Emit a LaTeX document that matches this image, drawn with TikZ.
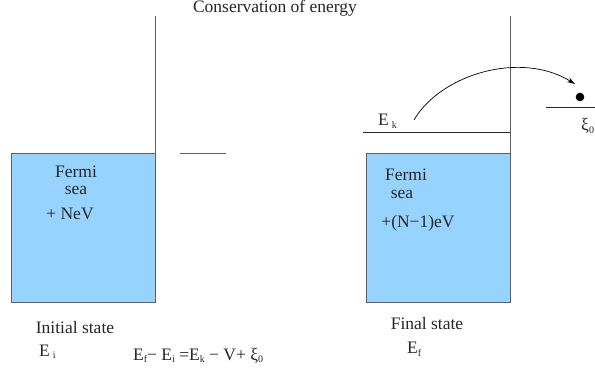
\documentclass[tikz,border=0pt]{standalone}
\usepackage{fontspec}
\setmainfont{Liberation Serif}
\usetikzlibrary{arrows.meta}
\definecolor{sea}{RGB}{150,212,255}
\definecolor{edge}{RGB}{95,95,95}
\tikzset{
  seabox/.style={draw=edge,fill=sea,line width=0.9pt},
  wall/.style={draw=edge,line width=0.9pt},
  lvl/.style={draw=black!85,line width=0.8pt},
  lbl/.style={inner sep=0pt,font=\rmfamily\fontsize{17.5}{19}\selectfont,text=black!85},
}
\newcommand{\sbs}[1]{\raisebox{-0.35ex}{\fontsize{10}{10}\selectfont #1}}
\begin{document}
\begin{tikzpicture}[x=1pt,y=-1pt]
\useasboundingbox (0,0) rectangle (595,374);
% left
\path[seabox] (11,153) rectangle (155,302);
\coordinate (lw1) at (155,16);
\coordinate (lw2) at (155,153);
\draw[wall] (lw1) -- (lw2);
\coordinate (ll1) at (180,153);
\coordinate (ll2) at (226,153);
\draw[wall] (ll1) -- (ll2);
\node[lbl,anchor=base] (f1) at (76,178) {Fermi};
\node[lbl,anchor=base] (s1) at (76,195) {sea};
\node[lbl] (n1) at (70,214) {+ NeV};
% right
\path[seabox] (366,153) rectangle (510,302);
\coordinate (rw1) at (510,16);
\coordinate (rw2) at (510,302);
\draw[wall] (rw1) -- (rw2);
\coordinate (ek1) at (363,132);
\coordinate (ek2) at (510,132);
\draw[lvl] (ek1) -- (ek2);
\node[lbl,anchor=base] (f2) at (406,181) {Fermi};
\node[lbl,anchor=base] (s2) at (402,199) {sea};
\node[lbl] (n2) at (418,223) {+(N−1)eV};
\node[lbl,anchor=base west] (ek) at (378,126) {E\,\sbs{k}};
\coordinate (xl1) at (546,107);
\coordinate (xl2) at (600,107);
\draw[lvl] (xl1) -- (xl2);
\fill[black] (580,97) circle (4.3);
\node[lbl,anchor=base west] (xi) at (581,131) {ξ\sbs{0}};
\coordinate (a1) at (414,120);
\coordinate (a2) at (575,84);
\draw[black,line width=0.7pt,-{Stealth[length=8pt,width=5pt]}] (a1) .. controls (440,75) and (520,50) .. (a2);
% texts
\node[lbl,anchor=base] (title) at (275,13) {Conservation of energy};
\node[lbl] (ini) at (75,328) {Initial state};
\node[lbl,anchor=base west] (ei) at (39,356) {E\,\sbs{i}};
\node[lbl,anchor=base west] (eq) at (133,360) {E\sbs{f}− E\sbs{i} =E\sbs{k} − V+ ξ\sbs{0}};
\node[lbl] (fin) at (427,324) {Final state};
\node[lbl,anchor=base west] (ef) at (407,354) {E\sbs{f}};
\end{tikzpicture}
\end{document}
